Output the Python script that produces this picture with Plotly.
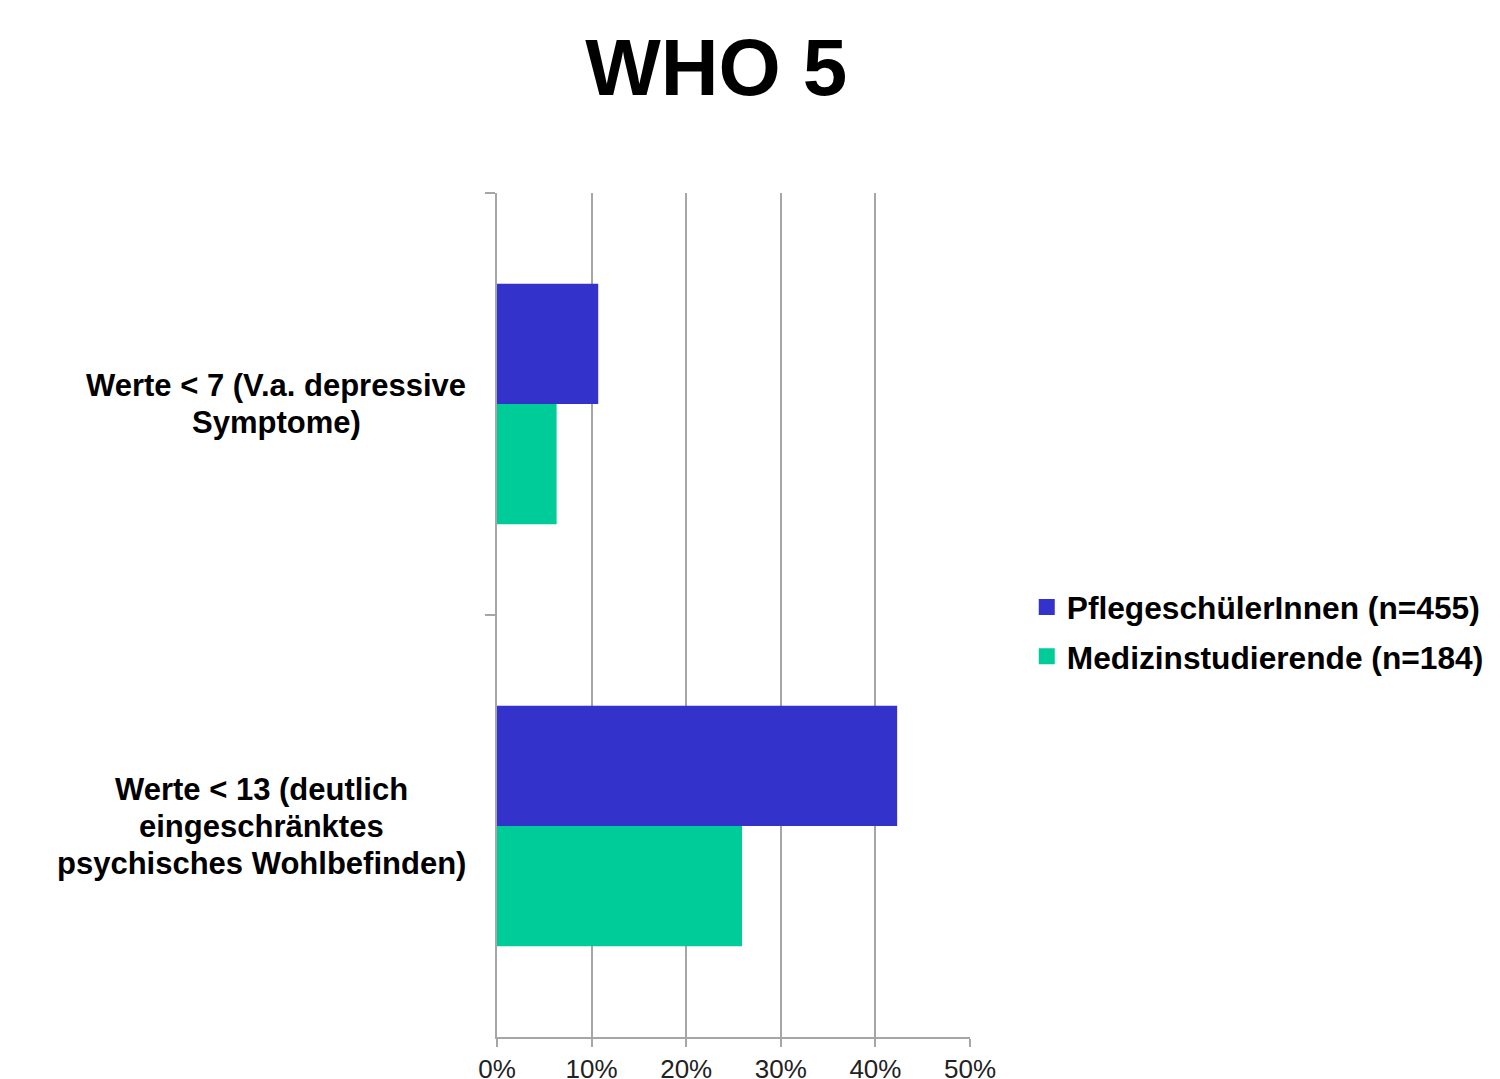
import plotly.graph_objects as go

# WHO-5 wellbeing index: share of respondents below the cut-off scores
categories = [
    "Werte < 7 (V.a. depressive<br>Symptome)",
    "Werte < 13 (deutlich<br>eingeschränktes<br>psychisches Wohlbefinden)",
]
pflege_values = [0.107, 0.423]
medizin_values = [0.063, 0.259]
series_names = ["PflegeschülerInnen (n=455)", "Medizinstudierende (n=184)"]
series_colors = ["#3333cc", "#00cc99"]
x_tick_values = [0, 0.1, 0.2, 0.3, 0.4, 0.5]
x_tick_labels = ["0%", "10%", "20%", "30%", "40%", "50%"]

font_family = "Liberation Sans, Arial, sans-serif"
axis_gray = "#a6a6a6"
label_size = 31
label_line_height = 37
# horizontal centre of each category label block, in pixels left of the plot
label_centre_shift = [-221, -236]

fig = go.Figure()
for values, name, color in zip([pflege_values, medizin_values], series_names, series_colors):
    fig.add_trace(go.Bar(
        y=categories, x=values, orientation="h", name=name,
        marker=dict(color=color, line=dict(width=0)),
        showlegend=False,
    ))

# Legend entries with larger square swatches
for i, (name, color) in enumerate(zip(series_names, series_colors)):
    fig.add_trace(go.Scatter(
        x=[None], y=[None], mode="markers", name=f"<b>{name}</b>",
        marker=dict(symbol="square", size=16, color=color),
        legendgroup=f"g{i}", showlegend=True, hoverinfo="skip",
    ))

# Category labels: centred lines stacked to the left of the axis
for ci, cat in enumerate(categories):
    lines = cat.split("<br>")
    n = len(lines)
    for k, line in enumerate(lines):
        fig.add_annotation(
            x=0, xref="paper", y=cat, yref="y",
            text=f"<b>{line}</b>", showarrow=False,
            xanchor="center", yanchor="middle", align="center",
            xshift=label_centre_shift[ci],
            yshift=((n - 1) / 2 - k) * label_line_height,
            font=dict(family=font_family, size=label_size, color="black"),
        )

fig.update_layout(
    width=1500, height=1079,
    margin=dict(l=497, r=530, t=193, b=42, autoexpand=False),
    paper_bgcolor="white", plot_bgcolor="white",
    barmode="group", bargap=0.43, bargroupgap=0,
    title=dict(
        text="<b>WHO 5</b>", x=0.4775, xanchor="center",
        y=0.938, yanchor="middle",
        font=dict(family=font_family, size=80, color="black"),
    ),
    legend=dict(
        x=1.12, xanchor="left", y=0.48, yanchor="middle",
        font=dict(family=font_family, size=31.7, color="black"),
        itemwidth=30, traceorder="grouped", tracegroupgap=5,
        bgcolor="rgba(0,0,0,0)",
    ),
    showlegend=True,
    font=dict(family=font_family),
)

fig.update_xaxes(
    range=[0, 0.5], tickvals=x_tick_values, ticktext=x_tick_labels,
    showgrid=True, gridcolor=axis_gray, gridwidth=2,
    showline=True, linecolor=axis_gray, linewidth=2,
    ticks="outside", ticklen=8, tickwidth=2, tickcolor=axis_gray,
    tickfont=dict(family=font_family, size=26, color="#222222"),
    zeroline=False, fixedrange=True, automargin=False,
)
fig.update_yaxes(
    autorange="reversed", showticklabels=False,
    showline=True, linecolor=axis_gray, linewidth=2,
    ticks="outside", tickson="boundaries", ticklen=10, tickwidth=2,
    tickcolor=axis_gray, showgrid=False, fixedrange=True, automargin=False,
)

fig.write_html("out.html")
